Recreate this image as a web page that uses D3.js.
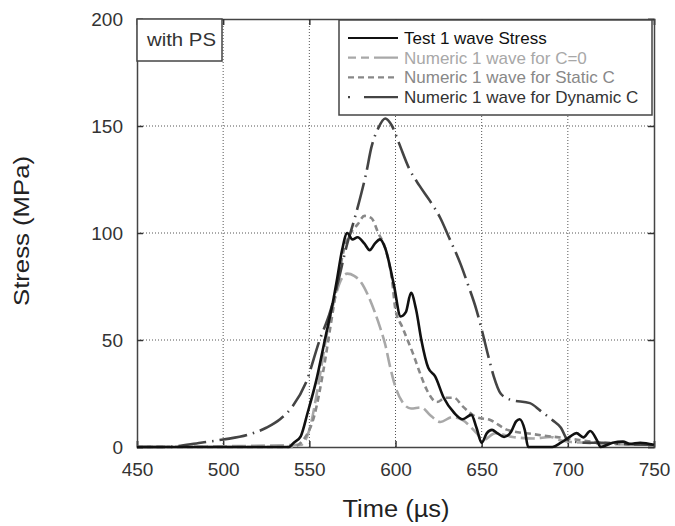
<!DOCTYPE html>
<html lang="en">
<head>
<meta charset="UTF-8" />
<title>Stress vs Time</title>
<script src="https://d3js.org/d3.v7.min.js"></script>
<style>
  body { margin: 0; background: #fff; }
  text { font-family: "Liberation Sans", Arial, sans-serif; }
</style>
</head>
<body>
<svg id="chart" width="675" height="526"></svg>
<script>
  // --- data ---
  const xTicks = [450, 500, 550, 600, 650, 700, 750];
  const yTicks = [0, 50, 100, 150, 200];

  const testT = [450, 538, 541, 545, 549, 554, 559, 564, 566, 569, 572, 575, 578, 582, 585, 588, 591, 594, 599, 603, 606, 609, 612, 615, 619, 623, 628, 634, 639, 644, 647, 650, 653, 656, 659, 663, 667, 670, 672, 675, 677, 691, 696, 701, 705, 709, 713, 717, 719, 726, 732, 736, 742, 750];
  const testS = [0, 0, 2, 5, 16, 31, 50, 69, 78, 92, 100, 97, 98, 95, 92, 95, 97, 93, 76, 61, 63, 72, 64, 50, 37, 33, 23, 16, 13, 15, 9, 2, 6.5, 8, 6.5, 4.7, 7, 12, 13, 8, 0, 0, 2, 4.7, 6.5, 4.5, 7.5, 3, 0, 2, 2.5, 1.5, 2, 1];

  const c0T = [450, 545, 550, 555, 560, 565, 569, 572, 576, 580, 584, 588, 591, 594, 597, 600, 604, 609, 615, 620, 626, 633, 639, 647, 651, 658, 668, 680, 690, 695, 702, 710, 720, 750];
  const c0S = [0, 1, 8, 28, 52, 70, 79, 81, 80, 77, 71, 63, 56, 48, 37, 28, 21, 18, 18.5, 15, 11.7, 14, 12.6, 6.5, 3.3, 6.5, 4.7, 4, 4.7, 3.3, 2.3, 2, 1.5, 1];

  const staticT = [450, 540, 548, 553, 558, 562, 566, 570, 574, 578, 582, 586, 590, 594, 598, 600, 604, 607, 610, 614, 618, 624, 629, 634, 639, 647, 655, 665, 680, 700, 720, 750];
  const staticS = [0, 0, 5, 15, 35, 55, 75, 92, 100, 104, 108, 107, 100, 93, 78, 64, 56, 50, 44, 35, 27, 21, 23, 23, 19, 14, 12.6, 8, 6, 4, 2, 1];

  const dynT = [450, 467, 487, 500, 514, 525, 533, 540, 548, 556, 562, 566, 572, 576, 580, 583, 586, 590, 594, 598, 602, 608, 614, 620, 626, 631, 638, 642, 647, 650, 654, 657, 661, 667, 678, 684, 691, 696, 700, 710, 720, 730, 750];
  const dynS = [0, 0, 2, 3.5, 5.6, 9, 13, 18.7, 30, 50, 63, 75, 95, 106, 118, 128, 140, 149, 153.5, 150, 142, 130, 122, 115, 107, 98, 85, 76, 64, 55, 42, 33, 25, 22, 20.5, 17, 12.6, 9, 3.3, 2, 2, 1.5, 1];

  const seriesNames = ["Test 1 wave Stress", "Numeric 1 wave for C=0", "Numeric 1 wave for Static C", "Numeric 1 wave for Dynamic C"];

  // --- layout ---
  const margin = { left: 137, right: 21, top: 19, bottom: 79 };
  const W = 675, H = 526;
  const svg = d3.select("#chart");
  const x = d3.scaleLinear().domain([450, 750]).range([margin.left, W - margin.right]);
  const y = d3.scaleLinear().domain([0, 200]).range([H - margin.bottom, margin.top]);

  const styles = [
    { color: "#111", dash: null, text: "#111" },
    { color: "#a8a8a8", dash: "14,5", text: "#a8a8a8" },
    { color: "#888", dash: "6,4", text: "#888" },
    { color: "#444", dash: "28,6,1.5,6", text: "#333" }
  ];

  // grid
  svg.append("g").selectAll("line")
    .data(xTicks.slice(1, -1)).enter().append("line")
    .attr("x1", d => x(d)).attr("x2", d => x(d))
    .attr("y1", y(0)).attr("y2", y(200))
    .attr("stroke", "#555").attr("stroke-width", 1).attr("stroke-dasharray", "1,2");
  svg.append("g").selectAll("line")
    .data(yTicks.slice(1, -1)).enter().append("line")
    .attr("y1", d => y(d)).attr("y2", d => y(d))
    .attr("x1", x(450)).attr("x2", x(750))
    .attr("stroke", "#555").attr("stroke-width", 1).attr("stroke-dasharray", "1,2");

  // axes (ticks inward on all sides)
  const fmt = d3.format("d");
  const axBottom = svg.append("g").attr("transform", `translate(0,${y(0)})`)
    .call(d3.axisBottom(x).tickValues(xTicks).tickSize(-6).tickPadding(16).tickFormat(fmt));
  const axLeft = svg.append("g").attr("transform", `translate(${x(450)},0)`)
    .call(d3.axisLeft(y).tickValues(yTicks).tickSize(-6).tickPadding(14).tickFormat(fmt));
  const axTop = svg.append("g").attr("transform", `translate(0,${y(200)})`)
    .call(d3.axisTop(x).tickValues(xTicks).tickSize(-6).tickFormat(""));
  const axRight = svg.append("g").attr("transform", `translate(${x(750)},0)`)
    .call(d3.axisRight(y).tickValues(yTicks).tickSize(-6).tickFormat(""));
  [axBottom, axLeft, axTop, axRight].forEach(g => {
    g.select(".domain").attr("stroke", "#444").attr("stroke-width", 1.5);
    g.selectAll(".tick line").attr("stroke", "#333").attr("stroke-width", 1.5);
    g.selectAll("text").attr("font-size", 19).attr("fill", "#333")
      .attr("font-family", "Liberation Sans, Arial, sans-serif");
  });

  // curves
  const line = d3.line().x(d => x(d[0])).y(d => y(d[1])).curve(d3.curveMonotoneX);
  const allSeries = [
    d3.zip(testT, testS), d3.zip(c0T, c0S), d3.zip(staticT, staticS), d3.zip(dynT, dynS)
  ];
  const drawOrder = [1, 2, 3, 0];
  drawOrder.forEach(i => {
    svg.append("path").datum(allSeries[i])
      .attr("d", line).attr("fill", "none")
      .attr("stroke", styles[i].color).attr("stroke-width", 2.6)
      .attr("stroke-dasharray", styles[i].dash);
  });

  // "with PS" box
  svg.append("rect").attr("x", x(450)).attr("y", y(200))
    .attr("width", 85).attr("height", 42)
    .attr("fill", "#fff").attr("stroke", "#444").attr("stroke-width", 1.5);
  svg.append("text").attr("x", 147).attr("y", 46)
    .attr("font-size", 18).attr("textLength", 69).attr("lengthAdjust", "spacingAndGlyphs")
    .attr("fill", "#333").text("with PS");

  // legend
  const lg = svg.append("g");
  lg.append("rect").attr("x", 339).attr("y", 20).attr("width", 313).attr("height", 95)
    .attr("fill", "#fff").attr("stroke", "#444").attr("stroke-width", 1.5);
  seriesNames.forEach((name, i) => {
    const by = 44 + i * 19.7;
    lg.append("line").attr("x1", 348).attr("x2", 398)
      .attr("y1", by - 6).attr("y2", by - 6)
      .attr("stroke", styles[i].color).attr("stroke-width", 2.2)
      .attr("stroke-dasharray", i === 3 ? "2,14,34" : (i === 1 ? "8,5,8,5,30" : styles[i].dash));
    lg.append("text").attr("x", 404).attr("y", by)
      .attr("font-size", 17).attr("fill", styles[i].text).text(name);
  });

  // axis titles
  svg.append("text").attr("x", 396).attr("y", 517).attr("text-anchor", "middle")
    .attr("font-size", 23).attr("textLength", 107).attr("lengthAdjust", "spacingAndGlyphs")
    .attr("fill", "#222").text("Time (µs)");
  svg.append("text").attr("transform", "translate(29,231) rotate(-90)")
    .attr("text-anchor", "middle").attr("font-size", 22)
    .attr("textLength", 150).attr("lengthAdjust", "spacingAndGlyphs")
    .attr("fill", "#222").text("Stress (MPa)");
</script>
</body>
</html>
